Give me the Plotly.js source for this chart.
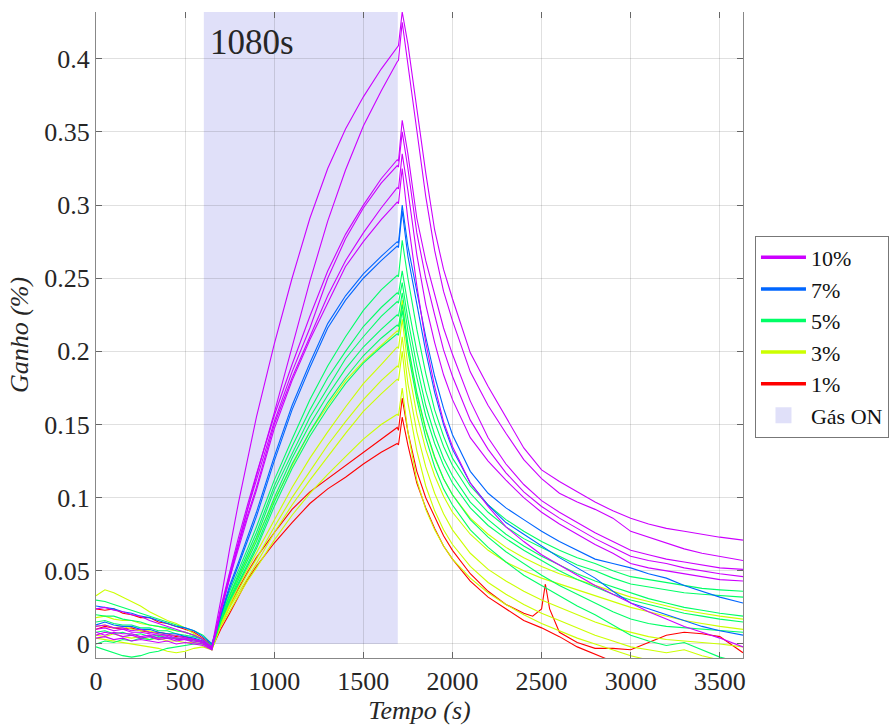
<!DOCTYPE html>
<html><head><meta charset="utf-8">
<script src="https://cdn.plot.ly/plotly-3.0.1.min.js"></script>
<style>html,body{margin:0;padding:0;background:#fff}</style>
</head><body>
<div id="chart" style="width:890px;height:728px"></div>
<script>
// time axis (s)
const t = [0,50,100,150,200,250,300,350,400,450,500,550,600,650,700,750,800,850,900,1000,1100,1200,1300,1400,1500,1600,1690,1697,1718,1750,1800,1850,1900,1950,2000,2100,2200,2300,2400,2500,2600,2700,2800,2900,3000,3100,3200,3300,3400,3500,3630];
const tRed1 = [0,50,100,150,200,250,300,350,400,450,500,550,600,650,700,750,800,850,900,1000,1100,1200,1300,1400,1500,1600,1690,1697,1718,1750,1800,1850,1900,1950,2000,2100,2200,2300,2400,2450,2500,2521,2545,2600,2700,2800,2900,3000,3100,3200,3300,3400,3500,3630];

// 1%
const red1 = [0.024,0.023,0.024,0.021,0.020,0.018,0.018,0.015,0.014,0.012,0.010,0.008,0.004,-0.001,
 0.013,0.026,0.038,0.049,0.059,0.076,0.092,0.104,0.113,0.122,0.131,0.140,0.148,0.146,0.168,
 0.145,0.118,0.100,0.087,0.074,0.064,0.048,0.036,0.027,0.021,
 0.019,0.024,0.041,0.024,
 0.008,0.001,-0.003,-0.003,-0.004,0.001,0.006,0.008,0.007,0.005,-0.006];
const red2 = [0.010,0.012,0.011,0.010,0.011,0.009,0.008,0.008,0.007,0.005,0.005,0.003,0.001,-0.003,
 0.010,0.021,0.033,0.044,0.053,0.069,0.083,0.096,0.106,0.114,0.123,0.131,0.137,0.136,0.155,
 0.136,0.110,0.093,0.079,0.067,0.058,0.043,0.032,0.024,0.016,0.011,0.005,-0.002,-0.007,-0.012,-0.016,-0.019,-0.022,-0.024,-0.026,-0.028,-0.030];
// 3%
const yel1 = [0.033,0.037,0.035,0.032,0.029,0.026,0.022,0.019,0.016,0.014,0.011,0.007,0.003,-0.003,
 0.017,0.032,0.046,0.059,0.072,0.098,0.122,0.145,0.163,0.180,0.193,0.204,0.214,0.213,0.235,
 0.203,0.170,0.146,0.127,0.113,0.102,0.086,0.075,0.066,0.059,0.053,0.048,0.044,0.040,0.036,0.032,0.029,0.026,0.023,0.021,0.019,0.017];
const yel2 = [0.012,0.013,0.011,0.012,0.010,0.009,0.009,0.007,0.006,0.006,0.004,0.003,0.001,-0.004,
 0.015,0.028,0.040,0.051,0.062,0.085,0.107,0.127,0.145,0.162,0.178,0.191,0.203,0.202,0.222,
 0.190,0.157,0.133,0.115,0.101,0.090,0.075,0.064,0.056,0.050,0.045,0.041,0.037,0.033,0.029,0.025,0.022,0.019,0.016,0.014,0.012,0.010];
const yel3 = [0.006,0.005,0.007,0.005,0.004,0.005,0.003,0.004,0.002,0.002,0.001,0.001,0.000,-0.004,
 0.014,0.026,0.037,0.048,0.058,0.080,0.100,0.118,0.136,0.152,0.167,0.180,0.190,0.189,0.210,
 0.178,0.145,0.121,0.103,0.089,0.078,0.062,0.051,0.043,0.036,0.030,0.025,0.020,0.015,0.011,0.008,0.005,0.003,0.002,0.001,0.000,-0.002];
const yel4 = [0.018,0.019,0.017,0.016,0.016,0.014,0.013,0.012,0.010,0.009,0.008,0.006,0.003,-0.002,
 0.013,0.025,0.035,0.045,0.055,0.076,0.095,0.112,0.128,0.144,0.159,0.171,0.181,0.180,0.200,
 0.165,0.132,0.108,0.091,0.078,0.068,0.053,0.042,0.034,0.027,0.021,0.016,0.011,0.006,0.002,-0.002,-0.004,-0.006,-0.004,-0.008,-0.011,-0.014];
const yel5 = [0.004,0.003,0.002,0.001,0.000,-0.001,-0.002,-0.003,-0.005,-0.006,-0.005,-0.003,-0.002,-0.004,
 0.012,0.023,0.033,0.043,0.052,0.071,0.088,0.103,0.116,0.128,0.140,0.150,0.157,0.156,0.175,
 0.145,0.112,0.092,0.078,0.067,0.058,0.045,0.035,0.027,0.020,0.014,0.009,0.004,0.000,-0.004,-0.008,-0.011,-0.014,-0.016,-0.018,-0.020,-0.022];
// 5%
const grn1 = [0.020,0.019,0.019,0.017,0.016,0.015,0.013,0.012,0.011,0.009,0.008,0.006,0.003,-0.001,
 0.020,0.036,0.050,0.065,0.080,0.112,0.140,0.167,0.190,0.210,0.228,0.242,0.252,0.251,0.276,
 0.250,0.215,0.185,0.160,0.142,0.127,0.108,0.095,0.085,0.077,0.070,0.064,0.059,0.055,0.050,0.046,0.044,0.042,0.040,0.038,0.037,0.036];
const grn2 = [0.030,0.029,0.027,0.025,0.023,0.021,0.019,0.017,0.015,0.013,0.011,0.009,0.006,0.000,
 0.019,0.034,0.048,0.062,0.076,0.108,0.135,0.160,0.182,0.200,0.217,0.230,0.240,0.239,0.255,
 0.232,0.200,0.173,0.152,0.135,0.122,0.103,0.090,0.080,0.072,0.066,0.060,0.054,0.050,0.045,0.041,0.039,0.037,0.035,0.034,0.033,0.032];
const grn3 = [0.008,0.009,0.007,0.008,0.006,0.007,0.005,0.006,0.004,0.004,0.003,0.002,0.001,-0.003,
 0.018,0.033,0.046,0.060,0.073,0.105,0.130,0.155,0.175,0.195,0.210,0.224,0.234,0.233,0.247,
 0.222,0.190,0.163,0.143,0.127,0.115,0.097,0.085,0.075,0.067,0.060,0.054,0.048,0.043,0.039,0.035,0.031,0.028,0.025,0.023,0.021,0.019];
const grn4 = [0.015,0.016,0.014,0.013,0.013,0.011,0.011,0.009,0.009,0.007,0.006,0.005,0.003,-0.002,
 0.017,0.031,0.044,0.057,0.070,0.100,0.127,0.150,0.170,0.188,0.203,0.215,0.225,0.224,0.240,
 0.214,0.182,0.156,0.137,0.122,0.110,0.093,0.081,0.072,0.064,0.057,0.050,0.044,0.039,0.034,0.030,0.027,0.024,0.021,0.019,0.017,0.015];
const grn5 = [0.000,0.002,0.001,0.003,0.002,0.004,0.003,0.005,0.004,0.004,0.003,0.003,0.001,-0.003,
 0.016,0.030,0.042,0.054,0.067,0.097,0.123,0.145,0.165,0.182,0.197,0.209,0.218,0.217,0.232,
 0.205,0.172,0.147,0.128,0.113,0.102,0.085,0.073,0.063,0.055,0.047,0.040,0.034,0.028,0.022,0.017,0.014,0.012,0.011,0.010,0.009,0.008];
const grn6 = [-0.002,-0.004,-0.006,-0.008,-0.009,-0.008,-0.006,-0.005,-0.003,-0.002,-0.001,0.000,0.000,-0.003,
 0.015,0.029,0.041,0.053,0.065,0.094,0.120,0.142,0.161,0.178,0.192,0.203,0.212,0.211,0.228,
 0.200,0.167,0.141,0.121,0.106,0.095,0.078,0.066,0.056,0.047,0.040,0.033,0.026,0.020,0.013,0.006,0.002,-0.001,0.001,-0.004,-0.009,-0.013];
// 7%
const blu1 = [0.026,0.025,0.024,0.022,0.021,0.019,0.018,0.016,0.014,0.012,0.011,0.009,0.005,0.000,
 0.020,0.040,0.056,0.073,0.090,0.128,0.163,0.192,0.219,0.238,0.253,0.265,0.275,0.274,0.300,
 0.272,0.240,0.210,0.183,0.161,0.143,0.118,0.103,0.093,0.085,0.077,0.070,0.064,0.058,0.055,0.052,0.048,0.045,0.040,0.036,0.032,0.028];
const blu2 = [0.013,0.015,0.013,0.012,0.012,0.010,0.010,0.008,0.007,0.007,0.005,0.004,0.002,-0.002,
 0.019,0.038,0.054,0.071,0.087,0.125,0.160,0.189,0.216,0.235,0.250,0.262,0.272,0.271,0.296,
 0.265,0.232,0.200,0.172,0.150,0.133,0.110,0.095,0.083,0.075,0.067,0.059,0.052,0.045,0.036,0.028,0.024,0.020,0.016,0.012,0.009,0.006];
// 10%
const pur1 = [0.024,0.025,0.023,0.022,0.020,0.019,0.016,0.014,0.012,0.010,0.008,0.006,0.003,-0.002,
 0.030,0.065,0.097,0.127,0.155,0.205,0.250,0.291,0.325,0.352,0.374,0.393,0.408,0.409,0.432,
 0.410,0.366,0.322,0.283,0.256,0.236,0.199,0.176,0.155,0.134,0.119,0.111,0.104,0.097,0.091,0.086,0.082,0.079,0.077,0.075,0.073,0.071];
const pur2 = [0.010,0.011,0.009,0.010,0.008,0.008,0.007,0.006,0.006,0.004,0.004,0.003,0.001,-0.003,
 0.022,0.045,0.068,0.092,0.115,0.158,0.203,0.248,0.289,0.324,0.354,0.378,0.398,0.399,0.425,
 0.396,0.351,0.306,0.269,0.241,0.221,0.186,0.163,0.144,0.126,0.113,0.103,0.097,0.092,0.086,0.077,0.073,0.069,0.065,0.062,0.060,0.057];
const pur3 = [0.006,0.008,0.007,0.005,0.006,0.004,0.005,0.003,0.004,0.002,0.003,0.001,0.000,-0.003,
 0.025,0.050,0.073,0.095,0.116,0.156,0.191,0.224,0.255,0.280,0.300,0.318,0.331,0.330,0.358,
 0.335,0.291,0.262,0.238,0.216,0.198,0.166,0.141,0.123,0.109,0.098,0.090,0.083,0.076,0.070,0.064,0.061,0.058,0.056,0.054,0.052,0.051];
const pur4 = [0.012,0.013,0.011,0.011,0.009,0.010,0.008,0.007,0.006,0.006,0.004,0.003,0.002,-0.002,
 0.024,0.048,0.070,0.092,0.112,0.152,0.186,0.216,0.250,0.277,0.298,0.315,0.327,0.326,0.350,
 0.325,0.281,0.250,0.225,0.201,0.183,0.153,0.133,0.117,0.104,0.094,0.086,0.079,0.072,0.066,0.060,0.057,0.055,0.052,0.050,0.048,0.046];
const pur5 = [0.008,0.006,0.008,0.007,0.007,0.005,0.006,0.004,0.005,0.003,0.003,0.002,0.001,-0.004,
 0.023,0.046,0.068,0.088,0.107,0.150,0.182,0.210,0.238,0.262,0.281,0.298,0.312,0.311,0.335,
 0.310,0.266,0.232,0.206,0.184,0.167,0.141,0.125,0.112,0.100,0.090,0.082,0.075,0.068,0.062,0.055,0.052,0.050,0.048,0.046,0.044,0.043];
const pur6 = [0.004,0.005,0.003,0.004,0.002,0.003,0.002,0.001,0.002,0.000,0.001,0.000,-0.001,-0.004,
 0.022,0.045,0.066,0.086,0.105,0.147,0.180,0.208,0.233,0.258,0.275,0.290,0.302,0.301,0.325,
 0.290,0.245,0.206,0.176,0.152,0.135,0.110,0.094,0.080,0.070,0.061,0.054,0.047,0.040,0.034,0.028,0.022,0.017,0.012,0.008,0.004,-0.002];

const groupNames = ['10%','7%','5%','3%','1%'];
const gasOn = [605, 1693];
const gasLabel = 'Gás ON';
const durationLabel = '1080s';
const xTickVals = [0,500,1000,1500,2000,2500,3000,3500];
const yTickVals = [0,0.05,0.1,0.15,0.2,0.25,0.3,0.35,0.4];
const yTickText = ['0','0.05','0.1','0.15','0.2','0.25','0.3','0.35','0.4'];
const xRange = [0, 3630];
const yRange = [-0.0096, 0.432];

const colors = {'10%':'#cc00ff','7%':'#0066ff','5%':'#00ff66','3%':'#ccff00','1%':'#ff0000'};
const shade = 'rgb(224,224,249)';
const FONT = 'Liberation Serif';

const groups = [
  {name:'1%', lines:[[tRed1,red1],[t,red2]]},
  {name:'3%', lines:[[t,yel1],[t,yel2],[t,yel3],[t,yel4],[t,yel5]]},
  {name:'5%', lines:[[t,grn1],[t,grn2],[t,grn3],[t,grn4],[t,grn5],[t,grn6]]},
  {name:'7%', lines:[[t,blu1],[t,blu2]]},
  {name:'10%', lines:[[t,pur1],[t,pur2],[t,pur3],[t,pur4],[t,pur5],[t,pur6]]}
];

const traces = [];
groups.forEach(g => {
  g.lines.forEach(([xs, ys]) => {
    traces.push({type:'scatter', mode:'lines', x:xs, y:ys, showlegend:false,
      hoverinfo:'skip', line:{color:colors[g.name], width:1.1}});
  });
});
groupNames.forEach((n, i) => {
  traces.push({type:'scatter', mode:'lines', x:[null], y:[null], name:n, legendrank:i+1,
    line:{color:colors[n], width:3.5}, showlegend:true});
});
traces.push({type:'scatter', mode:'markers', x:[null], y:[null], name:gasLabel, legendrank:10,
  marker:{symbol:'square', size:20, color:shade}, showlegend:true, xaxis:'x2'});

const layout = {
  width:890, height:728,
  margin:{l:96, r:147, t:12, b:70, autoexpand:false},
  paper_bgcolor:'#fff', plot_bgcolor:'#fff',
  font:{family:FONT, color:'#262626'},
  xaxis:{range:xRange, tickvals:xTickVals, ticks:'inside', ticklen:6, tickcolor:'#666',
    showline:true, linecolor:'#888', linewidth:1, mirror:false,
    showgrid:true, gridcolor:'rgba(38,38,38,0.14)', zeroline:false,
    tickfont:{family:FONT, size:26, color:'#262626'}, automargin:false,
    title:{text:'<i>Tempo (s)</i>', font:{family:FONT, size:26, color:'#262626'}, standoff:4}},
  xaxis2:{range:xRange, tickvals:xTickVals, overlaying:'x', side:'top', ticks:'inside', ticklen:6,
    tickcolor:'#666', showticklabels:false, showgrid:false, showline:false, zeroline:false},
  yaxis:{range:yRange, tickvals:yTickVals, ticktext:yTickText, ticks:'inside', ticklen:6, tickcolor:'#666',
    showline:true, linecolor:'#888', linewidth:1, mirror:'ticks',
    showgrid:true, gridcolor:'rgba(38,38,38,0.14)', zeroline:false,
    tickfont:{family:FONT, size:26, color:'#262626'}, automargin:false,
    title:{text:'<i>Ganho (%)</i>', font:{family:FONT, size:26, color:'#262626'}, standoff:8}},
  shapes:[{type:'rect', xref:'x', yref:'y', x0:gasOn[0], x1:gasOn[1], y0:0, y1:yRange[1],
    fillcolor:shade, line:{width:0}, layer:'below'}],
  annotations:[{xref:'x', yref:'y', x:gasOn[0]+25, y:0.411, xanchor:'left', yanchor:'middle',
    text:durationLabel, showarrow:false, font:{family:FONT, size:35, color:'#262626'}}],
  legend:{x:1.0185, y:0.654, xanchor:'left', yanchor:'top', bgcolor:'#fff',
    bordercolor:'#777', borderwidth:1, font:{family:FONT, size:22, color:'#111'},
    itemwidth:45, tracegroupgap:0, traceorder:'normal'},
  showlegend:true
};
Plotly.newPlot('chart', traces, layout, {displayModeBar:false, staticPlot:true});
</script></body></html>
